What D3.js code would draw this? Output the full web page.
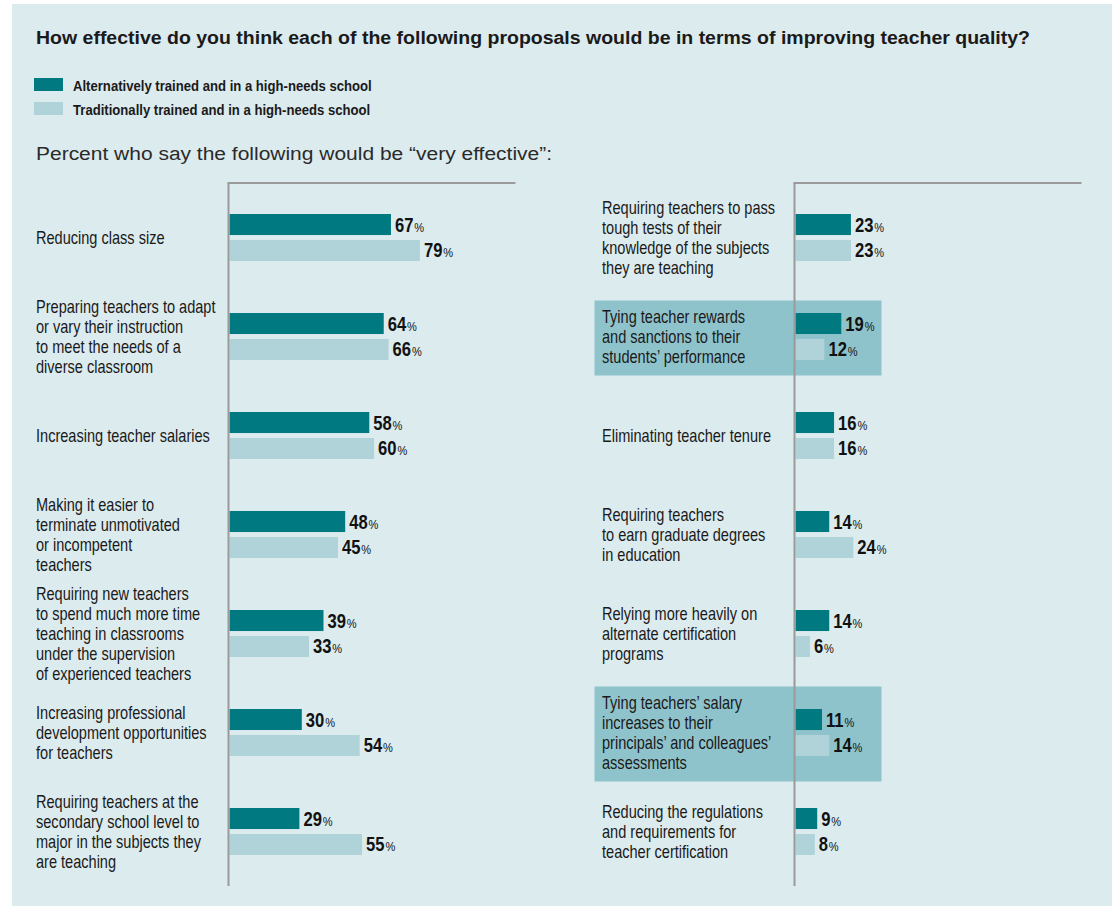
<!DOCTYPE html>
<html>
<head>
<meta charset="utf-8">
<script src="https://cdn.jsdelivr.net/npm/d3@7"></script>
<style>
  html, body { margin: 0; padding: 0; background: #ffffff; }
  svg { display: block; }
  text { font-family: "Liberation Sans", Arial, sans-serif; }
</style>
</head>
<body>
<svg id="chart" width="1112" height="907"></svg>
<script>
// Survey question and series
const title = "How effective do you think each of the following proposals would be in terms of improving teacher quality?";
const subtitle = "Percent who say the following would be \u201cvery effective\u201d:";
const seriesNames = [
  "Alternatively trained and in a high-needs school",
  "Traditionally trained and in a high-needs school"
];

// Left column of proposals (each label split into its printed lines)
const leftLabels = [
  ["Reducing class size"],
  ["Preparing teachers to adapt", "or vary their instruction", "to meet the needs of a", "diverse classroom"],
  ["Increasing teacher salaries"],
  ["Making it easier to", "terminate unmotivated", "or incompetent", "teachers"],
  ["Requiring new teachers", "to spend much more time", "teaching in classrooms", "under the supervision", "of experienced teachers"],
  ["Increasing professional", "development opportunities", "for teachers"],
  ["Requiring teachers at the", "secondary school level to", "major in the subjects they", "are teaching"]
];
const leftAlternative = [67, 64, 58, 48, 39, 30, 29];
const leftTraditional = [79, 66, 60, 45, 33, 54, 55];

// Right column of proposals
const rightLabels = [
  ["Requiring teachers to pass", "tough tests of their", "knowledge of the subjects", "they are teaching"],
  ["Tying teacher rewards", "and sanctions to their", "students\u2019 performance"],
  ["Eliminating teacher tenure"],
  ["Requiring teachers", "to earn graduate degrees", "in education"],
  ["Relying more heavily on", "alternate certification", "programs"],
  ["Tying teachers\u2019 salary", "increases to their", "principals\u2019 and colleagues\u2019", "assessments"],
  ["Reducing the regulations", "and requirements for", "teacher certification"]
];
const rightAlternative = [23, 19, 16, 14, 14, 11, 9];
const rightTraditional = [23, 12, 16, 24, 6, 14, 8];
// Proposals shown on a shaded band
const rightHighlighted = [false, true, false, false, false, true, false];

const colors = { alt: "#007a80", trad: "#afd3d8", bg: "#dcebee", band: "#8fc3cc", rule: "#9a9a9a", text: "#1a1a1a" };

const svg = d3.select("#chart");

// Width of a string in a given font, used to squeeze text into a condensed face
function measure(str, size, weight) {
  const t = svg.append("text").attr("font-size", size).attr("font-weight", weight).text(str);
  const w = t.node().getComputedTextLength();
  t.remove();
  return w;
}
const labelSize = 17.5, legendSize = 15, valueSize = 19.5;
const labelSqueeze = 153 / measure("Requiring new teachers", labelSize, "normal");
const legendSqueeze = 299 / measure(seriesNames[0], legendSize, "bold");
const valueSqueeze = 18.5 / measure("67", valueSize, "bold");

// Panel background
svg.append("rect").attr("x", 12).attr("y", 4).attr("width", 1100).attr("height", 902).attr("fill", colors.bg);

// Heading
svg.append("text").attr("x", 36).attr("y", 44)
  .attr("font-weight", "bold").attr("font-size", 18)
  .attr("textLength", 994).attr("lengthAdjust", "spacingAndGlyphs")
  .attr("fill", colors.text).text(title);

// Legend
const legend = svg.append("g");
seriesNames.forEach((name, i) => {
  legend.append("rect").attr("x", 34).attr("y", 78 + i * 24).attr("width", 29).attr("height", 13)
    .attr("fill", i === 0 ? colors.alt : colors.trad);
  legend.append("text").attr("transform", `translate(73,${91 + i * 24}) scale(${legendSqueeze},1)`)
    .attr("font-weight", "bold").attr("font-size", legendSize).attr("fill", colors.text).text(name);
});

svg.append("text").attr("x", 36).attr("y", 160)
  .attr("font-size", 18).attr("textLength", 516).attr("lengthAdjust", "spacingAndGlyphs")
  .attr("fill", "#2a2a2a").text(subtitle);

// Shared scales: percent to bar length, proposals to vertical position
const x = d3.scaleLinear().domain([0, 100]).range([0, 241]);
const keys = ["alt", "trad"];

function drawColumn(axisX, labelX, labels, alt, trad, highlighted) {
  const ids = labels.map((_, i) => i);
  const y = d3.scalePoint().domain(ids).range([237.5, 831.5]);
  const inner = d3.scaleBand().domain(keys).range([-23.5, 23.5]).paddingInner(0.19);
  const g = svg.append("g");

  // Shaded bands behind highlighted proposals
  ids.filter(i => highlighted[i]).forEach(i => {
    const half = (labels[i].length - 1) * 10 + 17.5;
    g.append("rect").attr("x", axisX - 200).attr("y", y(i) - half + 1.5)
      .attr("width", 287).attr("height", half * 2).attr("fill", colors.band);
  });

  // Proposal labels
  ids.forEach(i => {
    const lines = labels[i];
    lines.forEach((line, j) => {
      const ly = y(i) + (j - (lines.length - 1) / 2) * 20 + 6.5;
      g.append("text").attr("transform", `translate(${labelX},${ly}) scale(${labelSqueeze},1)`)
        .attr("font-size", labelSize).attr("fill", colors.text).text(line);
    });
  });

  // Bars
  const rows = ids.flatMap(i => [
    { i, key: "alt", v: alt[i] },
    { i, key: "trad", v: trad[i] }
  ]);
  g.selectAll("rect.bar").data(rows).join("rect").attr("class", "bar")
    .attr("x", axisX + 1).attr("y", d => y(d.i) + inner(d.key))
    .attr("width", d => x(d.v)).attr("height", inner.bandwidth())
    .attr("fill", d => colors[d.key]);

  // Value labels
  const vl = g.selectAll("text.val").data(rows).join("text").attr("class", "val")
    .attr("transform", d => `translate(${axisX + 1 + x(d.v) + 4},${y(d.i) + inner(d.key) + inner.bandwidth() / 2 + 7}) scale(${valueSqueeze},1)`)
    .attr("fill", "#111");
  vl.append("tspan").attr("font-weight", "bold").attr("font-size", valueSize).text(d => d.v);
  vl.append("tspan").attr("font-size", 13).attr("dx", 1).text("%");

  // Axis rule and top rule
  g.append("line").attr("x1", axisX).attr("x2", axisX).attr("y1", 183).attr("y2", 886)
    .attr("stroke", colors.rule).attr("stroke-width", 2);
  g.append("line").attr("x1", axisX - 1).attr("x2", axisX + 287).attr("y1", 183).attr("y2", 183)
    .attr("stroke", colors.rule).attr("stroke-width", 2);
}

drawColumn(228.5, 36, leftLabels, leftAlternative, leftTraditional, leftLabels.map(() => false));
drawColumn(794.5, 602, rightLabels, rightAlternative, rightTraditional, rightHighlighted);
</script>
</body>
</html>
